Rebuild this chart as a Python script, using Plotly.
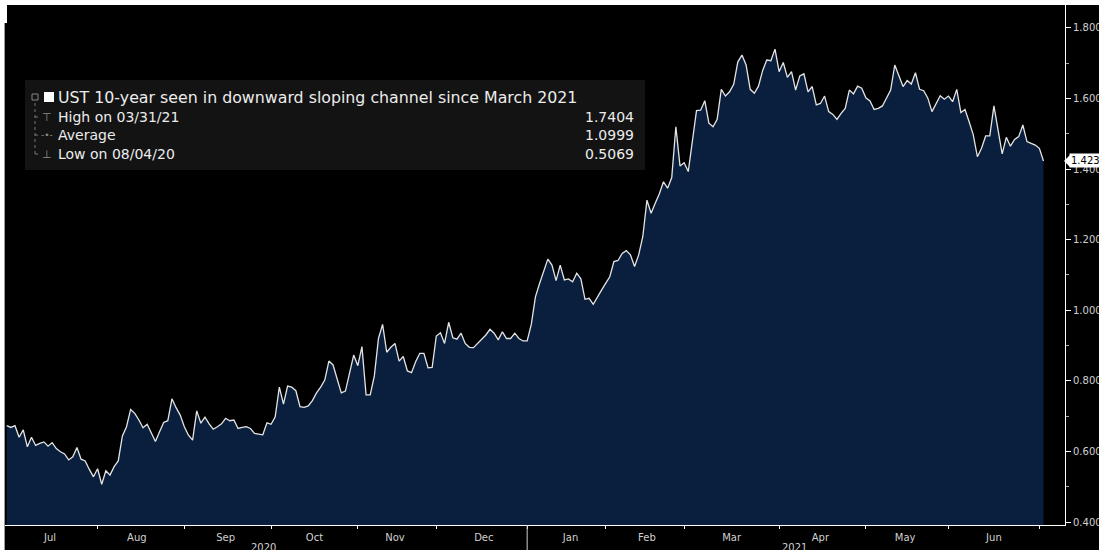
import pandas as pd
import plotly.graph_objects as go

# ---------------- data ----------------
yields = [
    0.673, 0.668, 0.673, 0.640, 0.661, 0.613, 0.640, 0.617, 0.623, 0.627,
    0.615, 0.625, 0.608, 0.599, 0.593, 0.576, 0.585, 0.611, 0.578, 0.573,
    0.549, 0.528, 0.551, 0.507, 0.545, 0.533, 0.557, 0.573, 0.644, 0.670,
    0.719, 0.708, 0.689, 0.667, 0.677, 0.651, 0.628, 0.656, 0.682, 0.687,
    0.749, 0.724, 0.703, 0.670, 0.646, 0.632, 0.715, 0.680, 0.697, 0.678,
    0.663, 0.670, 0.678, 0.694, 0.687, 0.689, 0.665, 0.668, 0.670, 0.665,
    0.651, 0.649, 0.647, 0.681, 0.677, 0.698, 0.782,
    0.734, 0.785, 0.782, 0.772, 0.727, 0.725, 0.729, 0.744, 0.766, 0.782,
    0.802, 0.856, 0.845, 0.802, 0.766, 0.771, 0.821, 0.873, 0.843, 0.897,
    0.760, 0.760, 0.814, 0.920, 0.960, 0.881, 0.895, 0.906, 0.856, 0.869,
    0.828, 0.823, 0.854, 0.878, 0.878, 0.837, 0.838, 0.927, 0.936, 0.906,
    0.966, 0.922, 0.918, 0.935, 0.906, 0.895, 0.894, 0.906, 0.916, 0.930,
    0.946, 0.935, 0.916, 0.939, 0.920, 0.920, 0.935, 0.920, 0.913, 0.913,
    0.960,
    1.038, 1.076, 1.109, 1.145, 1.128, 1.084, 1.128, 1.086, 1.089, 1.081,
    1.105, 1.089, 1.031, 1.034, 1.017, 1.039, 1.057, 1.076, 1.095, 1.138,
    1.141, 1.161, 1.169, 1.157, 1.124, 1.157, 1.209, 1.312, 1.275, 1.303,
    1.330, 1.364, 1.346, 1.376,
    1.520, 1.409, 1.418, 1.393, 1.482, 1.566, 1.567, 1.594, 1.530, 1.520,
    1.541, 1.626, 1.607, 1.619, 1.640, 1.704, 1.723, 1.695, 1.626, 1.615,
    1.635, 1.679, 1.709, 1.707, 1.740, 1.676, 1.702, 1.660, 1.676, 1.624,
    1.664, 1.670, 1.619, 1.634, 1.582, 1.586, 1.607, 1.563, 1.555, 1.541,
    1.558, 1.572, 1.624, 1.613, 1.635, 1.629, 1.602, 1.593, 1.569, 1.572,
    1.579, 1.602, 1.624, 1.695, 1.662, 1.634, 1.651, 1.641, 1.673, 1.626,
    1.622, 1.601, 1.563, 1.586, 1.608, 1.598, 1.607, 1.591, 1.626, 1.560,
    1.569, 1.534, 1.497, 1.435, 1.459, 1.494, 1.494, 1.579, 1.511, 1.443,
    1.490, 1.465, 1.484, 1.492, 1.525, 1.478, 1.473, 1.468, 1.459, 1.423,
]

holidays = ["2020-07-03", "2020-09-07", "2020-10-12", "2020-11-11", "2020-11-26",
            "2020-12-25", "2021-01-01", "2021-01-18", "2021-02-15", "2021-04-02",
            "2021-05-31", "2021-07-05"]
start_date, end_date = "2020-07-01", "2021-07-02"
dates = [d for d in pd.bdate_range(start_date, end_date)
         if d.strftime("%Y-%m-%d") not in holidays]
n = min(len(dates), len(yields))
dates, yields = dates[:n], yields[:n]

y_ticks = [0.4, 0.6, 0.8, 1.0, 1.2, 1.4, 1.6, 1.8]
legend_title = "UST 10-year seen in downward sloping channel since March 2021"
stat_labels = ["High on 03/31/21", "Average", "Low on 08/04/20"]
stat_values = ["1.7404", "1.0999", "0.5069"]
stat_icons = ["\u22a4", "-\u2022-", "\u22a5"]
last_label = "1.423"
years = ["2020", "2021"]

# ---------------- layout geometry ----------------
W, H = 1099, 550
L, R, T, B = 5, 34, 5, 25
PW, PH = W - L - R, H - T - B
Y0, Y1 = 0.3915, 1.865


def px(x):
    return (x - L) / PW


def py(y):
    return (H - B - y) / PH


FONT = "DejaVu Sans"
fig = go.Figure()
fig.add_trace(go.Scatter(
    x=dates, y=yields, mode="lines",
    line=dict(color="#e4e4e4", width=1.3),
    fill="tozeroy", fillcolor="#0a1f3d",
    hoverinfo="x+y", showlegend=False,
))

shapes = []
annotations = []

# white page strips around black chart region
shapes.append(dict(type="rect", xref="paper", yref="paper", x0=px(0), x1=px(4),
                   y0=py(H), y1=py(0), fillcolor="white", line=dict(width=0), layer="above"))
shapes.append(dict(type="rect", xref="paper", yref="paper", x0=px(0), x1=px(W),
                   y0=py(5), y1=py(0), fillcolor="white", line=dict(width=0), layer="above"))
shapes.append(dict(type="rect", xref="paper", yref="paper", x0=px(0), x1=px(7),
                   y0=py(23), y1=py(0), fillcolor="white", line=dict(width=0), layer="above"))
shapes.append(dict(type="line", xref="paper", yref="paper", x0=px(4.5), x1=px(4.5),
                   y0=py(H), y1=py(23), line=dict(color="#9a9a9a", width=1), layer="above"))

# legend box
shapes.append(dict(type="rect", xref="paper", yref="paper", x0=px(25), x1=px(645),
                   y0=py(170), y1=py(80), fillcolor="#131313", line=dict(width=0), layer="above"))
row_y = [97, 117, 135, 154]
# tree connector
shapes.append(dict(type="line", xref="paper", yref="paper", x0=px(35), x1=px(35),
                   y0=py(row_y[3]), y1=py(row_y[0] + 3),
                   line=dict(color="#777", width=1, dash="dot"), layer="above"))
for ry in row_y[1:]:
    shapes.append(dict(type="line", xref="paper", yref="paper", x0=px(35), x1=px(40),
                       y0=py(ry), y1=py(ry), line=dict(color="#777", width=1, dash="dot"),
                       layer="above"))
shapes.append(dict(type="rect", xref="paper", yref="paper", x0=px(32), x1=px(38),
                   y0=py(row_y[0] + 3), y1=py(row_y[0] - 3), fillcolor="#131313",
                   line=dict(color="#888", width=1), layer="above"))
shapes.append(dict(type="rect", xref="paper", yref="paper", x0=px(44), x1=px(54),
                   y0=py(row_y[0] + 5), y1=py(row_y[0] - 5), fillcolor="white",
                   line=dict(width=0), layer="above"))

annotations.append(dict(xref="paper", yref="paper", x=px(56), y=py(row_y[0]),
                        text=legend_title, showarrow=False, xanchor="left", yanchor="middle",
                        font=dict(family=FONT, size=15.8, color="#ececec")))
for i, (lab, val, ico) in enumerate(zip(stat_labels, stat_values, stat_icons)):
    yy = py(row_y[i + 1])
    annotations.append(dict(xref="paper", yref="paper", x=px(47), y=yy, text=ico,
                            showarrow=False, xanchor="center", yanchor="middle",
                            font=dict(family=FONT, size=9 if i == 1 else 11, color="#8a8a8a")))
    annotations.append(dict(xref="paper", yref="paper", x=px(56), y=yy, text=lab,
                            showarrow=False, xanchor="left", yanchor="middle",
                            font=dict(family=FONT, size=14, color="#ececec")))
    annotations.append(dict(xref="paper", yref="paper", x=px(636), y=yy, text=val,
                            showarrow=False, xanchor="right", yanchor="middle",
                            font=dict(family=FONT, size=14, color="#ececec")))

# last value callout
last_val = float(last_label)
d = 6 / (PH / (Y1 - Y0))
shapes.append(dict(type="path", xref="paper", yref="y",
                   path=f"M {px(1064)},{last_val} L {px(1070)},{last_val + d} L {px(1070)},{last_val - d} Z",
                   fillcolor="white", line=dict(width=0), layer="above"))
annotations.append(dict(xref="paper", yref="y", x=px(1069), y=last_val, text=last_label,
                        showarrow=False, xanchor="left", yanchor="middle",
                        bgcolor="white", borderpad=1,
                        font=dict(family=FONT, size=10, color="black")))

# year labels and separator
year_x = [263, 795]
for yr, xx in zip(years, year_x):
    annotations.append(dict(xref="paper", yref="paper", x=px(xx), y=py(547), text=yr,
                            showarrow=False, xanchor="center", yanchor="middle",
                            font=dict(family=FONT, size=10, color="#d0d0d0")))
shapes.append(dict(type="line", xref="x", yref="paper", x0="2021-01-01", x1="2021-01-01",
                   y0=py(H - B), y1=py(H), line=dict(color="#cfcfcf", width=1), layer="above"))

fig.update_layout(
    width=W, height=H,
    margin=dict(l=L, r=R, t=T, b=B, autoexpand=False),
    paper_bgcolor="black", plot_bgcolor="black",
    shapes=shapes, annotations=annotations,
    font=dict(family=FONT, color="#d0d0d0", size=10),
    xaxis=dict(
        type="date", automargin=False,
        range=["2020-06-30 14:00", "2021-07-12 05:00"],
        rangebreaks=[dict(bounds=["sat", "mon"]), dict(values=holidays)],
        dtick="M1", tickformat="%b", ticklabelmode="period",
        ticks="outside", ticklen=3, tickcolor="white",
        showline=True, linecolor="white", linewidth=1,
        showgrid=False, zeroline=False,
        tickfont=dict(family=FONT, size=10, color="#d0d0d0"),
    ),
    yaxis=dict(
        side="right", range=[Y0, Y1], automargin=False,
        tickvals=y_ticks, tickformat=".3f",
        ticks="outside", ticklen=5, tickcolor="white",
        minor=dict(dtick=0.1, tick0=0.5, ticks="outside", ticklen=3, tickcolor="#aaaaaa"),
        showline=True, linecolor="white", linewidth=1,
        showgrid=False, zeroline=False,
        tickfont=dict(family=FONT, size=10, color="#d0d0d0"),
    ),
)

fig.write_html(
    "out.html",
    config={"displayModeBar": False},
    post_script="document.body.style.margin='0';document.body.style.overflow='hidden';",
)
